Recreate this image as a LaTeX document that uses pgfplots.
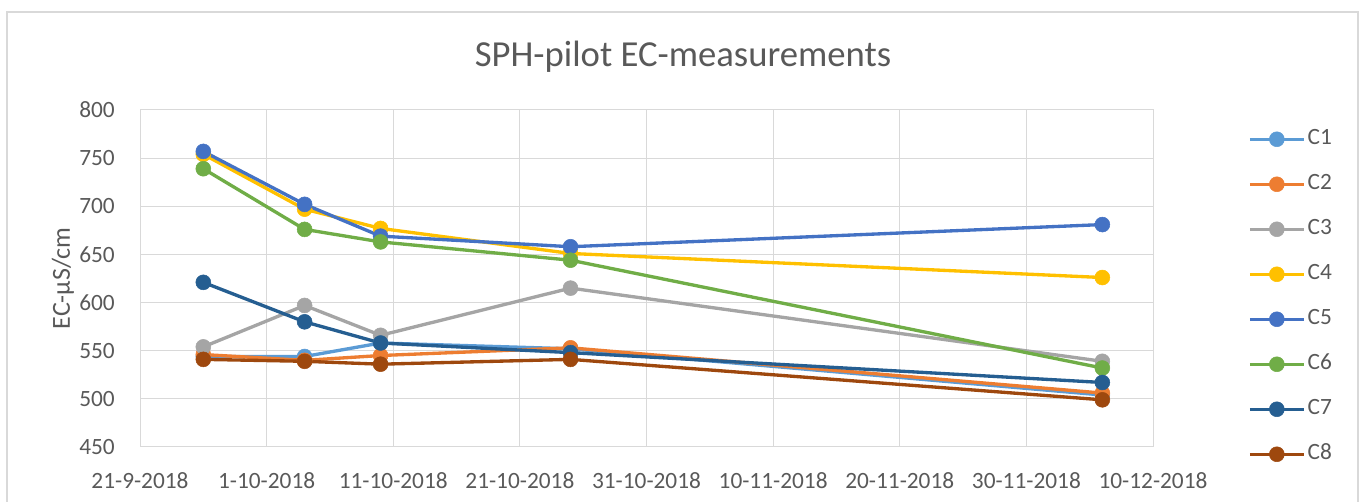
\documentclass[border=0pt]{standalone}
\usepackage{pgfplots}
\pgfplotsset{compat=1.18}
\usepackage{fontspec}
\setmainfont{Carlito}
\definecolor{c1}{HTML}{5B9BD5}
\definecolor{c2}{HTML}{ED7D31}
\definecolor{c3}{HTML}{A5A5A5}
\definecolor{c4}{HTML}{FFC000}
\definecolor{c5}{HTML}{4472C4}
\definecolor{c6}{HTML}{70AD47}
\definecolor{c7}{HTML}{255E91}
\definecolor{c8}{HTML}{9E480E}
\definecolor{txt}{HTML}{595959}
\definecolor{grd}{HTML}{D9D9D9}
\begin{document}
\begin{tikzpicture}
\useasboundingbox (0,0) rectangle (1020pt,376.5pt);
\begin{scope}
\clip (0,0) rectangle (1020pt,376.5pt);
\draw[grd, line width=1.2pt] (5.25pt,-10pt) rectangle (1018.5pt,367.5pt);
\end{scope}
\node[txt, font=\fontsize{27.5}{33}\selectfont] at (512.25pt,333.75pt) {SPH-pilot EC-measurements};
\begin{axis}[
 at={(105pt,41.25pt)}, anchor=south west, scale only axis,
 width=759.75pt, height=252.75pt,
 xmin=0, xmax=80, ymin=450, ymax=800,
 xtick={0,10,...,80},
 xticklabels={21-9-2018,1-10-2018,11-10-2018,21-10-2018,31-10-2018,10-11-2018,20-11-2018,30-11-2018,10-12-2018},
 ytick={450,500,...,800},
 grid=major, major grid style={grd, line width=0.75pt},
 axis line style={grd, line width=0.75pt},
 major tick length=0pt,
 tick label style={txt, font=\fontsize{17.5}{21}\selectfont, inner sep=0pt},
 /pgf/number format/assume math mode=true,
 yticklabel style={xshift=-18.75pt},
 xticklabel style={yshift=-18.75pt},
 ylabel={EC-µS/cm},
 ylabel style={txt, font=\fontsize{19.5}{23}\selectfont, at={(axis description cs:-0.076,0.5)}, anchor=center},
 legend style={at={(1.0937,0.948)}, anchor=north west, draw=none, fill=none,
   font=\fontsize{17.5}{21}\selectfont, text=txt, inner sep=0pt, row sep=16.55pt,
   nodes={inner sep=1.6pt, text height=11pt, text depth=3pt}},
 legend cell align=left,
 legend image code/.code={\draw[mark repeat=2,mark phase=2,#1] plot coordinates {(0pt,0pt) (20.25pt,0pt) (40.5pt,0pt)};},
 every axis plot/.append style={line width=2.5pt, mark=*, mark size=5.6pt, mark options={solid, line width=0.4pt}},
]
\addplot[c1] coordinates {(5,544) (13,544) (19,558) (34,552) (76,504)};
\addlegendentry{C1}
\addplot[c2] coordinates {(5,546) (13,540) (19,545) (34,553) (76,506)};
\addlegendentry{C2}
\addplot[c3] coordinates {(5,554) (13,597) (19,566) (34,615) (76,539)};
\addlegendentry{C3}
\addplot[c4] coordinates {(5,754) (13,697) (19,677) (34,651) (76,626)};
\addlegendentry{C4}
\addplot[c5] coordinates {(5,757) (13,702) (19,669) (34,658) (76,681)};
\addlegendentry{C5}
\addplot[c6] coordinates {(5,739) (13,676) (19,663) (34,644) (76,532)};
\addlegendentry{C6}
\addplot[c7] coordinates {(5,621) (13,580) (19,558) (34,548) (76,517)};
\addlegendentry{C7}
\addplot[c8] coordinates {(5,541) (13,539) (19,536) (34,541) (76,499)};
\addlegendentry{C8}
\end{axis}
\end{tikzpicture}
\end{document}
